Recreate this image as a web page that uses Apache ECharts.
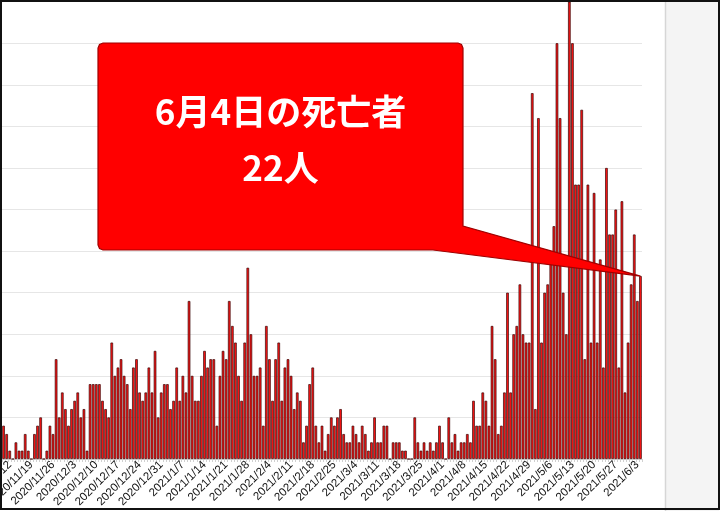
<!DOCTYPE html>
<html><head><meta charset="utf-8">
<script src="https://cdn.jsdelivr.net/npm/echarts@6/dist/echarts.min.js"></script>
<style>html,body{margin:0;padding:0;background:#fff}#c{width:720px;height:511px}</style>
</head><body><div id="c"></div>
<script>
// daily deaths, 2020/11/10 .. 2021/6/4
const startYear = 2020, startMonth = 11, startDay = 10;
const deaths = [
  4,3,1,0,2,1,1,3,1,0, 3,4,5,0,1,4,3,12,5,8,
  6,4,6,7,8,5,6,1,9,9, 9,9,7,6,5,14,10,11,12,10,
  9,6,11,12,8,7,8,11,8,13, 5,8,9,9,6,7,11,7,10,8,
  19,10,7,7,10,13,11,12,12,4, 10,13,12,19,16,14,10,7,14,23,
  15,10,10,11,4,16,12,7,12,14, 7,11,12,10,6,8,7,2,4,9,
  11,4,2,4,1,3,5,4,5,6, 3,2,2,4,3,2,4,3,1,2,
  5,2,2,4,4,0,2,2,2,1, 1,0,0,5,2,1,2,1,2,1,
  2,4,2,0,5,2,3,1,2,2, 3,2,7,4,4,8,7,4,16,12,
  3,4,8,20,8,15,16,21,15,14, 14,44,6,41,14,20,21,25,28,50,
  41,20,15,55,50,33,33,42,12,33, 14,32,14,24,11,35,27,27,30,11,
  31,8,14,21,27,19,22
];
const calloutLines = ['6月4日の死亡者', '22人'];
const labelStartIndex = 2;   // first shown label 2020/11/12
const labelStep = 7;

const categories = [];
for (let i = 0; i < deaths.length; i++) {
  const d = new Date(Date.UTC(startYear, startMonth - 1, startDay + i));
  categories.push(d.getUTCFullYear() + '/' + (d.getUTCMonth() + 1) + '/' + d.getUTCDate());
}

const chart = echarts.init(document.getElementById('c'), null, {renderer: 'canvas'});
chart.setOption({
  animation: false,
  grid: {left: 2, right: 78, top: 1.7, bottom: 52, containLabel: false, outerBoundsMode: 'none'},
  xAxis: {
    type: 'category', data: categories, boundaryGap: true,
    axisLine: {lineStyle: {color: '#d4d4d4'}},
    axisTick: {show: true, interval: 0, length: 3, lineStyle: {color: '#d0d0d0'}},
    axisLabel: {
      interval: function (i) { return i >= labelStartIndex && (i - labelStartIndex) % labelStep === 0; },
      rotate: 45, fontSize: 11.5, color: '#111', margin: 4, fontFamily: 'Liberation Sans'
    }
  },
  yAxis: {
    type: 'value', min: 0, max: 55, interval: 5,
    axisLabel: {show: false}, axisLine: {show: false}, axisTick: {show: false},
    splitLine: {lineStyle: {color: '#e6e6e6'}}
  },
  series: [{
    type: 'bar', data: deaths, barCategoryGap: '16%',
    itemStyle: {color: '#ff1414', borderColor: '#360404', borderWidth: 0.7}
  }]
});

const last = deaths.length - 1;
const tip = chart.convertToPixel({seriesIndex: 0}, [last, deaths[last]]);
const L = 98, R = 463, T = 43, B = 250, r = 5;
const pts = [[L + r, T], [R - r, T], [R - 1.5, T + 1.5], [R, T + r], [R, 226], [tip[0], tip[1]],
  [433, B], [L + r, B], [L + 1.5, B - 1.5], [L, B - r], [L, T + r], [L + 1.5, T + 1.5]];
const cx = (L + R) / 2;
chart.setOption({
  graphic: [
    {type: 'rect', z: 1, shape: {x: 665, y: 0, width: 54, height: 511}, style: {fill: '#f4f4f4'}},
    {type: 'line', z: 2, shape: {x1: 665.5, y1: 0, x2: 665.5, y2: 511}, style: {stroke: '#d6d6d6', lineWidth: 1.5}},
    {type: 'polygon', z: 50, shape: {points: pts}, style: {fill: '#ff0000', stroke: '#a00000', lineWidth: 1.2}},
    {type: 'text', z: 51, x: cx, y: 112, style: {text: calloutLines[0], fill: '#fff', fontSize: 35, fontWeight: 'bold',
      fontFamily: '"Noto Sans CJK JP"', align: 'center', verticalAlign: 'middle', textAlign: 'center', textVerticalAlign: 'middle'}},
    {type: 'text', z: 51, x: cx, y: 168, style: {text: calloutLines[1], fill: '#fff', fontSize: 35, fontWeight: 'bold',
      fontFamily: '"Noto Sans CJK JP"', align: 'center', verticalAlign: 'middle', textAlign: 'center', textVerticalAlign: 'middle'}},
    {type: 'rect', z: 100, shape: {x: 1, y: 1, width: 718, height: 508}, style: {fill: 'none', stroke: '#111', lineWidth: 2}}
  ]
});
</script></body></html>
